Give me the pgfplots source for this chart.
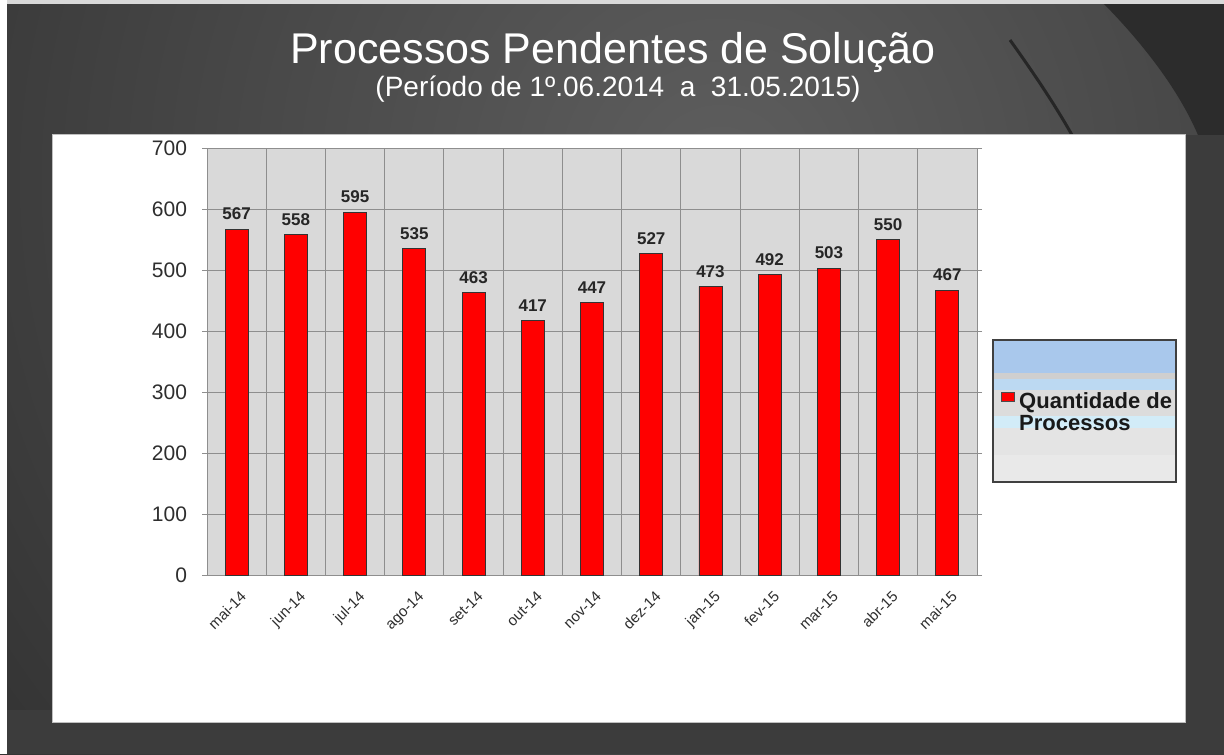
\documentclass[border=0pt]{standalone}
\usepackage{pgfplots}
\pgfplotsset{compat=1.18}
\usepackage{fontspec}
\setmainfont{Liberation Sans}
\definecolor{bgbase}{HTML}{242424}
\definecolor{bglight}{HTML}{5E5E5E}
\definecolor{bgright}{HTML}{2C2C2C}
\definecolor{bgbottom}{HTML}{3C3C3C}
\definecolor{plotbg}{HTML}{D9D9D9}
\definecolor{gridc}{HTML}{8E8E8E}
\definecolor{tickc}{HTML}{2E2E2E}
\definecolor{lgblue}{HTML}{A9C8EC}
\definecolor{lgblue2}{HTML}{BCD9F2}
\definecolor{lgline}{HTML}{CFCFCF}
\definecolor{lggray}{HTML}{DCDCDC}
\definecolor{lgcyan}{HTML}{D2ECF8}
\definecolor{lggray2}{HTML}{E4E4E4}
\definecolor{lggray3}{HTML}{E9E9E9}
\begin{document}
\begin{tikzpicture}[x=0.5pt,y=-0.5pt]
\useasboundingbox (0,0) rectangle (1224,754);
% background
\fill[bgbase] (0,0) rectangle (1224,754);
\begin{scope}
\clip (0,0) rectangle (1224,754);
\shade[inner color=bglight, outer color=bgbase] (720,180) circle (1250);
\fill[bgright] (1100,0) .. controls (1140,40) and (1180,90) .. (1200,140) -- (1224,140) -- (1224,0) -- cycle;
\draw[black!85, line width=1.5pt] (1010,40) .. controls (1035,75) and (1055,105) .. (1072,135);
\fill[bgbottom] (0,710) rectangle (1224,754);
\fill[bgbottom] (1185,135) rectangle (1224,754);
\fill[white!85!black] (0,0) rectangle (1224,4);
\fill[white] (0,0) rectangle (7,754);
\end{scope}
% panel
\fill[white] (52,135) rectangle (1185,722);
\draw[black!25, line width=0.5pt] (52,135) rectangle (1185,722);
% titles
\node[white, anchor=base, font=\fontsize{21.5}{24}\selectfont] at (613,64) {Processos Pendentes de Solução};
\node[white, anchor=base, font=\fontsize{14}{16}\selectfont] at (618,97) {(Período de 1º.06.2014\ \ a\ \ 31.05.2015)};
% legend box background
\fill[lggray3] (993,340) rectangle (1176,482);
\fill[lgblue] (993,340) rectangle (1176,373);
\fill[lgline] (993,373) rectangle (1176,379);
\fill[lgblue2] (993,379) rectangle (1176,390);
\fill[lggray] (993,390) rectangle (1176,416);
\fill[lgcyan] (993,416) rectangle (1176,428);
\fill[lggray2] (993,428) rectangle (1176,455);
\draw[black!75, line width=0.6pt] (993,340) rectangle (1176,482);
\coordinate (axorigin) at (207,575);
\begin{axis}[
  at={(axorigin)}, anchor=south west,
  scale only axis, width=385pt, height=213.5pt,
  xmin=-0.5, xmax=12.5, ymin=0, ymax=700,
  ytick={0,100,...,700},
  xtick={0,...,12},
  xticklabels={mai-14,jun-14,jul-14,ago-14,set-14,out-14,nov-14,dez-14,jan-15,fev-15,mar-15,abr-15,mai-15},
  minor xtick={-0.5,0.5,...,12.5},
  xminorgrids, ymajorgrids,
  grid style={gridc, line width=0.5pt},
  minor grid style={gridc, line width=0.5pt},
  axis line style={gridc, line width=0.5pt},
  tick align=outside,
  major tick length=2.5pt, minor tick length=2.5pt,
  xtick style={draw=none},
  minor tick style={gridc, line width=0.5pt},
  ytick style={gridc, line width=0.5pt},
  axis background/.style={fill=plotbg},
  /pgf/number format/assume math mode=true,
  yticklabel style={font=\fontsize{10.5}{12}\selectfont, text=tickc, xshift=-4pt},
  xticklabel style={font=\fontsize{7.5}{9}\selectfont, text=tickc, rotate=45, anchor=north east, xshift=1pt, yshift=-1pt},
  ybar, bar width=11.5pt,
  nodes near coords,
  nodes near coords style={font=\bfseries\fontsize{8.5}{10}\selectfont, text=black!85, yshift=1pt},
  legend style={at={(axis description cs:1.0312,0.4295)}, anchor=north west, draw=none, fill=none, inner sep=0pt, column sep=2pt, font=\bfseries\fontsize{11}{11}\selectfont, nodes={inner sep=0pt, text=black!90}},
  legend image code/.code={\draw[fill=red, draw=black!70, line width=0.4pt] (0pt,0.3pt) rectangle (6.5pt,4.8pt);},
]
\addplot[fill=red, draw=black!80, line width=0.4pt] coordinates {
(0,567) (1,558) (2,595) (3,535) (4,463) (5,417) (6,447) (7,527) (8,473) (9,492) (10,503) (11,550) (12,467)};
\addlegendentry{\begin{tabular}[t]{@{}l@{}}Quantidade de\\Processos\end{tabular}}
\end{axis}
\end{tikzpicture}
\end{document}
